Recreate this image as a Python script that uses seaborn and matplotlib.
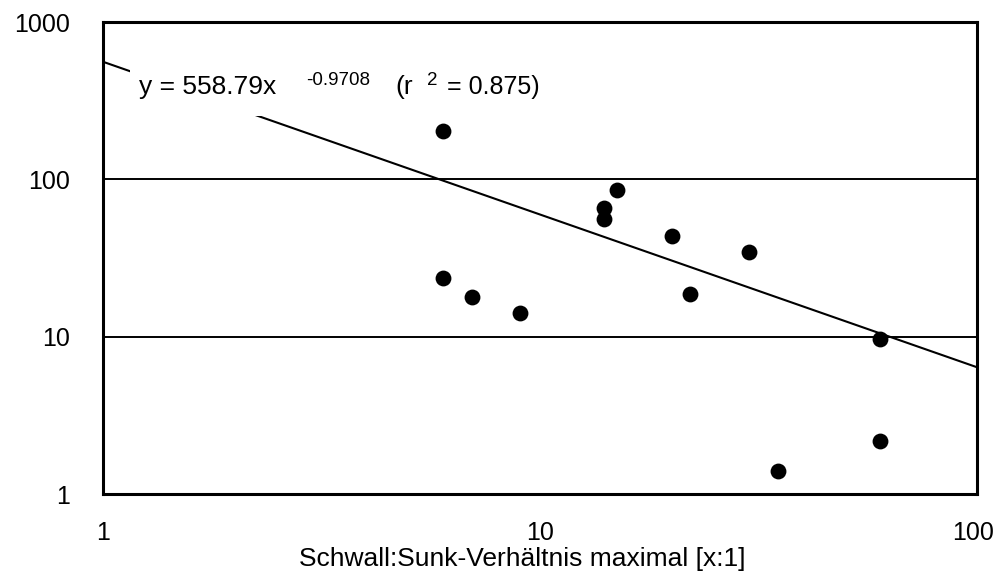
import numpy as np
import pandas as pd
import matplotlib
matplotlib.use("Agg")
import matplotlib.pyplot as plt
import matplotlib.transforms as mtransforms
from matplotlib.patches import Rectangle
import seaborn as sns

# Data
ratio_x = [6, 6, 7, 9, 14, 14, 15, 20, 22, 30, 35, 60, 60]
value_y = [203, 23.5, 17.9, 14.2, 65.5, 55.8, 85.6, 43.9, 18.7, 34.7, 1.41, 9.6, 2.17]

# Power trendline as shown in the chart label
fit_a = 558.79
fit_b = -0.9708
fit_r2 = 0.875

x_label = "Schwall:Sunk-Verhältnis maximal [x:1]"
x_ticks = [1, 10, 100]
y_ticks = [1, 10, 100, 1000]

sns.set_theme(style="white")
plt.rcParams["font.family"] = ["Liberation Sans", "DejaVu Sans"]

fig = plt.figure(figsize=(9.95, 5.82), dpi=100)
ax = fig.add_axes([103 / 995, 1 - 494 / 582, (977 - 103) / 995, (494 - 22) / 582])

df = pd.DataFrame({"x": ratio_x, "y": value_y})

# trend line
tx = np.logspace(0, 2, 200)
ty = fit_a * tx ** fit_b
sns.lineplot(x=tx, y=ty, ax=ax, color="black", linewidth=1.5, zorder=3)

sns.scatterplot(data=df, x="x", y="y", ax=ax, color="black", s=130,
                edgecolor="black", linewidth=0, zorder=4)

ax.set_xscale("log")
ax.set_yscale("log")
ax.set_xlim(1, 100)
ax.set_ylim(1, 1000)
ax.set_xticks(x_ticks)
ax.set_xticklabels([str(t) for t in x_ticks])
ax.set_yticks(y_ticks)
ax.set_yticklabels([str(t) for t in y_ticks])
ax.minorticks_off()
ax.tick_params(axis="both", which="major", direction="out", length=6.5, width=1.5,
               color="black", labelsize=18, labelcolor="black")
ax.tick_params(axis="y", pad=17)
ax.tick_params(axis="x", pad=13)

# shift the last x tick label slightly left so it stays inside the figure
last_lbl = ax.get_xticklabels()[-1]
last_lbl.set_transform(last_lbl.get_transform() +
                       mtransforms.ScaledTranslation(-4 / 100, 0, fig.dpi_scale_trans))

for yv in [10, 100]:
    ax.axhline(yv, color="black", linewidth=1.4, zorder=2)

for sp in ax.spines.values():
    sp.set_visible(True)
    sp.set_color("black")
    sp.set_linewidth(2.2)

ax.set_xlabel(x_label, fontsize=19, color="black")
ax.xaxis.set_label_coords((522 - 103) / 874, (494 - 547) / 472)
ax.set_ylabel("")

# white label area hiding the line behind the equation
ax.add_patch(Rectangle((0.031, 0.801), 0.49, 0.106, transform=ax.transAxes,
                       facecolor="white", edgecolor="none", zorder=4.5))

base_y = (494 - 94) / 472
sup_y = (494 - 85) / 472
ax.text((139 - 103) / 874, base_y, "y = 558.79x", transform=ax.transAxes, fontsize=19,
        va="baseline", ha="left", color="black", zorder=5)
ax.text((306 - 103) / 874, sup_y, "-0.9708", transform=ax.transAxes, fontsize=13.5,
        va="baseline", ha="left", color="black", zorder=5)
ax.text((395 - 103) / 874, base_y, "(r", transform=ax.transAxes, fontsize=19,
        va="baseline", ha="left", color="black", zorder=5)
ax.text((427 - 103) / 874, sup_y, "2", transform=ax.transAxes, fontsize=13.5,
        va="baseline", ha="left", color="black", zorder=5)
ax.text((447 - 103) / 874, base_y, "= 0.875)", transform=ax.transAxes, fontsize=18,
        va="baseline", ha="left", color="black", zorder=5)

fig.savefig("out.png", dpi=100, facecolor="white")
